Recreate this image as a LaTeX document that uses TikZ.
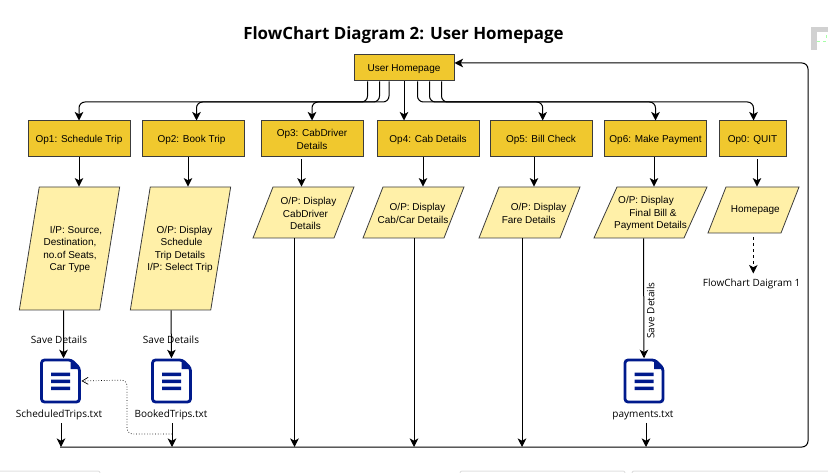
\documentclass[tikz,border=0pt]{standalone}
\usepackage{fontspec}
\setmainfont{Liberation Sans}
\newfontfamily\titlefont{Open Sans}
\usetikzlibrary{arrows.meta,shapes.geometric}
\definecolor{opfill}{HTML}{F0C82E}
\definecolor{parfill}{HTML}{FFF0A8}
\definecolor{docblue}{HTML}{001A8C}
\definecolor{edgegray}{HTML}{3C3C3C}
\newcommand{\parsize}[2]{\phantom{\rule{#1pt}{#2pt}}}
\tikzset{
	opbox/.style={draw=edgegray,fill=opfill,line width=1pt,minimum height=36pt,inner sep=0pt,text depth=0pt,align=center,font=\fontsize{10}{13}\selectfont},
	parbox/.style={trapezium,draw=edgegray,fill=parfill,line width=0.8pt,inner sep=0pt},
	partext/.style={align=center,inner sep=0pt,font=\fontsize{10}{12.2}\selectfont},
	filetext/.style={inner sep=0pt,font=\titlefont\fontsize{10}{11}\selectfont},
	docicon/.pic={
		\draw[docblue,line width=2.8pt,fill=white,rounded corners=3pt] (-19,-21)--(11,-21)--(19,-13)--(19,21)--(-19,21)--cycle;
		\fill[docblue] (10,-21)--(19,-12)--(10,-12)--cycle;
		\fill[docblue] (-9.5,-8.5) rectangle (9.5,-5) (-9.5,-1.5) rectangle (9.5,2) (-9.5,5.5) rectangle (9.5,9);
	}
}
\begin{document}
\begin{tikzpicture}[x=1pt,y=-1pt,>={Stealth[length=8.5pt,width=8.5pt,inset=2.2pt]},line width=1pt]
	\useasboundingbox (0,0) rectangle (828,473);
	\node[font=\titlefont\bfseries\fontsize{16.9}{20}\selectfont] (title) at (403.5,35) {FlowChart Diagram 2: User Homepage};
	% top box and the options
	\node[opbox,minimum width=100pt,minimum height=26pt] (home) at (404,68) {User Homepage};
	\node[opbox,minimum width=102pt] (op1) at (79,139) {Op1: Schedule Trip};
	\node[opbox,minimum width=102pt] (op2) at (193,139) {Op2: Book Trip\hspace*{3pt}};
	\node[opbox,minimum width=102pt] (op3) at (312,139) {Op3: CabDriver\\Details};
	\node[opbox,minimum width=102pt] (op4) at (428,139) {Op4: Cab Details};
	\node[opbox,minimum width=102pt] (op5) at (541,139) {Op5: Bill Check};
	\node[opbox,minimum width=102pt] (op6) at (655.5,139) {Op6: Make Payment};
	\node[opbox,minimum width=67pt] (op0) at (752.5,139) {Op0: QUIT};
	% parallelograms
	\node[parbox,trapezium left angle=80.8,trapezium right angle=99.2] (par1) at (69.5,248.5) {\parsize{60.5}{123}};
	\node[parbox,trapezium left angle=80.8,trapezium right angle=99.2] (par2) at (180.5,248.5) {\parsize{60.5}{123}};
	\node[parbox,trapezium left angle=68.6,trapezium right angle=111.4] (par3) at (303.5,212.5) {\parsize{61}{51}};
	\node[parbox,trapezium left angle=68.6,trapezium right angle=111.4] (par4) at (413.5,212.5) {\parsize{61}{51}};
	\node[parbox,trapezium left angle=68.6,trapezium right angle=111.4] (par5) at (529.5,212.5) {\parsize{61}{51}};
	\node[parbox,trapezium left angle=65.7,trapezium right angle=114.3] (par6) at (650.5,212.5) {\parsize{67}{51}};
	\node[parbox,trapezium left angle=68.6,trapezium right angle=111.4] (par0) at (753.5,210) {\parsize{55}{46}};
	\node[partext] (par1text) at (70,249.5) {\hspace*{12pt}I/P: Source,\\Destination,\\no.of Seats,\\Car Type};
	\node[partext] (par2text) at (180,249.5) {\hspace*{9pt}O/P: Display\\\hspace*{3pt}Schedule\\Trip Details\hspace*{5pt}\\I/P: Select Trip};
	\node[partext] (par3text) at (305.5,213.5) {\hspace*{6pt}O/P: Display\\CabDriver\\Details};
	\node[partext] (par4text) at (413,213.5) {\hspace*{9pt}O/P: Display\\Cab/Car Details};
	\node[partext] (par5text) at (528.7,213.5) {\hspace*{20pt}O/P: Display\\Fare Details};
	\node[partext] (par6text) at (650.5,213.5) {O/P: Display\hspace*{9pt}\\\hspace*{5pt}Final Bill \&\\Payment Details};
	\node[partext] (par0text) at (755.3,210) {Homepage};
	% files
	\node[minimum width=41pt,minimum height=44.5pt,inner sep=0pt] (doc1) at (60.5,381) {};
	\node[minimum width=41pt,minimum height=44.5pt,inner sep=0pt] (doc2) at (171.5,381) {};
	\node[minimum width=41pt,minimum height=44.5pt,inner sep=0pt] (doc3) at (644,381) {};
	\pic at (doc1) {docicon};
	\pic at (doc2) {docicon};
	\pic at (doc3) {docicon};
	\node[filetext] (file1) at (59,414.5) {ScheduledTrips.txt};
	\node[filetext] (file2) at (171,414.5) {BookedTrips.txt};
	\node[filetext] (file3) at (643,415) {payments.txt};
	\node[filetext] (save1) at (59,340) {Save Details};
	\node[filetext] (save2) at (171,340) {Save Details};
	\node[filetext,rotate=90] (save3) at (650.7,310.5) {Save Details};
	\node[filetext] (quit1) at (751.7,284) {FlowChart Daigram 1};
	% home to options
	\draw[->,rounded corners=6pt] ([xshift=-36.5]home.south)--++(0,20.5)-|(op1.north);
	\draw[->,rounded corners=6pt] ([xshift=-24.5]home.south)--++(0,20.5)-|([xshift=3.5]op2.north);
	\draw[->,rounded corners=6pt] ([xshift=-15]home.south)--++(0,20.5)-|(op3.north);
	\draw[->] (home.south)--(op4.north-|home.south);
	\draw[->,rounded corners=6pt] ([xshift=13.5]home.south)--++(0,20.5)-|([xshift=1.7]op5.north);
	\draw[->,rounded corners=6pt] ([xshift=25.5]home.south)--++(0,20.5)-|(op6.north);
	\draw[->,rounded corners=6pt] ([xshift=37.5]home.south)--++(0,20.5)-|([xshift=1]op0.north);
	% options to parallelograms
	\draw[->] (op1.south)--(op1.south|-par1.north);
	\draw[->] ([xshift=-5]op2.south)--([xshift=-5]op2.south|-par2.north);
	\draw[->] ([xshift=-10.5,yshift=-2]op3.south)--([xshift=-10.5]op3.south|-par3.north);
	\draw[->] ([xshift=-5]op4.south)--([xshift=-5]op4.south|-par4.north);
	\draw[->] ([xshift=-7]op5.south)--([xshift=-7]op5.south|-par5.north);
	\draw[->] ([xshift=-1.5]op6.south)--([xshift=-1.5]op6.south|-par6.north);
	\draw[->] ([xshift=4.5,yshift=-2]op0.south)--([xshift=4.5]op0.south|-par0.north);
	% parallelograms to files and bottom line
	\draw[->] ([xshift=-6]par1.south)--([xshift=3]doc1.north);
	\draw[->] ([xshift=-9.5]par2.south)--(doc2.north);
	\draw[->] ([xshift=-7]par6.south)--(doc3.north);
	\draw[->,dashed] ([xshift=-0.2,yshift=-4]par0.south)--([xshift=-0.2,yshift=5]par0.south|-quit1.north);
	\coordinate (busstart) at (60,447);
	\draw[->] ([xshift=2,yshift=-3]file1.south)--([xshift=2]file1.south|-busstart);
	\draw[->] ([xshift=1,yshift=-3]file2.south)--([xshift=1]file2.south|-busstart);
	\draw[->] ([xshift=3,yshift=-3]file3.south)--([xshift=3]file3.south|-busstart);
	\draw[->] ([xshift=-9]par3.south)--([xshift=-9]par3.south|-busstart);
	\draw[->] ([xshift=0.5]par4.south)--([xshift=0.5]par4.south|-busstart);
	\draw[->] ([xshift=-7.5]par5.south)--([xshift=-7.5]par5.south|-busstart);
	\draw[->,rounded corners=6pt] (busstart)--(808,447)--(808,63)--([yshift=5]home.east);
	\draw[->,dotted,line width=0.7pt,rounded corners=6pt,>={Straight Barb[length=6pt,width=7pt]}] (172,434)-|(127,380)--(doc1.east);
	% window bits at the edges
	\fill[black!18] (811,27) rectangle (828,50);
	\fill[white] (817,32) rectangle (828,50);
	\draw[green!35,dashed,line width=0.6pt] (817,41)--(826,41)--(826,33);
	\draw[black!12,rounded corners=2pt] (-5,480)--(-5,471)--(100,471)--(100,480) (460,480)--(460,471)--(625,471)--(625,480) (632,480)--(632,471)--(835,471)--(835,480);
\end{tikzpicture}
\end{document}
